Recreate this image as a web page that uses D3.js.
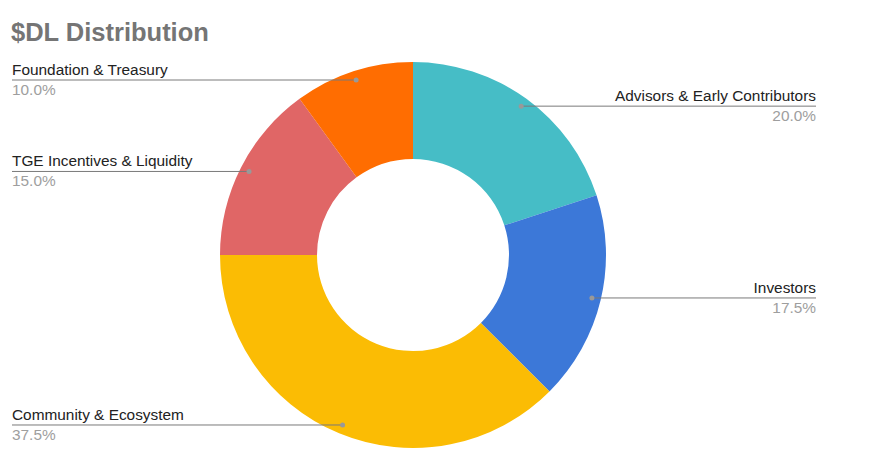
<!DOCTYPE html>
<html>
<head>
<meta charset="utf-8">
<script src="https://cdn.jsdelivr.net/npm/d3@7"></script>
<style>
  body { margin: 0; background: #fff; }
  svg { display: block; }
</style>
</head>
<body>
<div id="viz"></div>
<script>
'use strict';

const categories = [
  'Advisors & Early Contributors',
  'Investors',
  'Community & Ecosystem',
  'TGE Incentives & Liquidity',
  'Foundation & Treasury'
];
const shares = [20.0, 17.5, 37.5, 15.0, 10.0];
const colors = ['#46bdc6', '#3c78d8', '#fbbc04', '#e06666', '#ff6d01'];

const width = 895, height = 458;
const cx = 413, cy = 255;
const outerR = 193, innerR = 96;

const svg = d3.select('#viz')
  .append('svg')
    .attr('width', width)
    .attr('height', height);

svg.append('text')
  .attr('x', 11)
  .attr('y', 41)
  .attr('font-family', 'Arial, "Liberation Sans", sans-serif')
  .attr('font-weight', 'bold')
  .attr('font-size', 25.5)
  .attr('fill', '#757575')
  .text('$DL Distribution');

const data = categories.map((c, i) => ({name: c, value: shares[i], color: colors[i]}));

const pie = d3.pie().sort(null).value(d => d.value);
const arc = d3.arc().innerRadius(innerR).outerRadius(outerR);
const arcs = pie(data);

const g = svg.append('g')
  .attr('transform', `translate(${cx},${cy})`);

g.selectAll('path')
  .data(arcs)
  .join('path')
    .attr('d', arc)
    .attr('fill', d => d.data.color);

// leader lines + labels
const dotR = 184;
const leftX = 12, rightX = 816;

arcs.forEach(a => {
  const mid = (a.startAngle + a.endAngle) / 2;
  const px = cx + dotR * Math.sin(mid);
  const py = cy - dotR * Math.cos(mid);
  const right = px > cx;
  const endX = right ? rightX : leftX;

  svg.append('line')
    .attr('x1', px).attr('y1', py)
    .attr('x2', endX).attr('y2', py)
    .attr('stroke', '#7a7a7a')
    .attr('stroke-width', 1);

  svg.append('circle')
    .attr('cx', px).attr('cy', py)
    .attr('r', 2.5)
    .attr('fill', '#999');

  const anchor = right ? 'end' : 'start';

  svg.append('text')
    .attr('x', endX).attr('y', py - 5)
    .attr('text-anchor', anchor)
    .attr('font-family', 'Arial, "Liberation Sans", sans-serif')
    .attr('font-size', 15.4)
    .attr('fill', '#222')
    .text(a.data.name);

  svg.append('text')
    .attr('x', endX).attr('y', py + 15)
    .attr('text-anchor', anchor)
    .attr('font-family', 'Arial, "Liberation Sans", sans-serif')
    .attr('font-size', 15.4)
    .attr('fill', '#9e9e9e')
    .text(a.data.value.toFixed(1) + '%');
});
</script>
</body>
</html>
